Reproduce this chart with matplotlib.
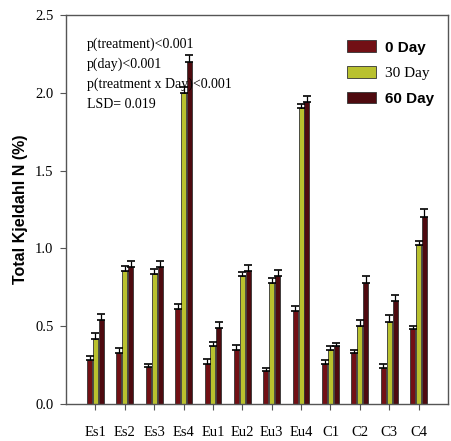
import matplotlib
matplotlib.use("Agg")
import matplotlib.pyplot as plt
import numpy as np
from matplotlib.patches import Patch

categories = ["Es1", "Es2", "Es3", "Es4", "Eu1", "Eu2", "Eu3", "Eu4", "C1", "C2", "C3", "C4"]
day0 = [0.28, 0.33, 0.24, 0.61, 0.26, 0.35, 0.21, 0.60, 0.26, 0.33, 0.23, 0.48]
day30 = [0.42, 0.855, 0.835, 2.00, 0.37, 0.82, 0.78, 1.90, 0.345, 0.50, 0.53, 1.02]
day60 = [0.54, 0.88, 0.88, 2.20, 0.49, 0.855, 0.82, 1.94, 0.37, 0.78, 0.66, 1.20]
err0 = [0.03, 0.03, 0.02, 0.03, 0.03, 0.03, 0.02, 0.03, 0.02, 0.02, 0.03, 0.02]
err30 = [0.035, 0.03, 0.03, 0.04, 0.03, 0.03, 0.03, 0.03, 0.03, 0.04, 0.04, 0.03]
err60 = [0.04, 0.04, 0.04, 0.04, 0.04, 0.04, 0.04, 0.04, 0.02, 0.04, 0.04, 0.05]
series_labels = ["0 Day", "30 Day", "60 Day"]
colors = ["#721015", "#b9c12e", "#4e0a0f"]
annotation = ["p(treatment)<0.001", "p(day)<0.001", "p(treatment x Day)<0.001", "LSD= 0.019"]

fig = plt.figure(figsize=(4.52, 4.41), dpi=100)
ax = fig.add_axes([66 / 452, 1 - 404 / 441, 382 / 452, 389 / 441])

x = np.arange(len(categories))
w = 0.17
step = 0.2
for i, (vals, errs, c) in enumerate(zip([day0, day30, day60], [err0, err30, err60], colors)):
    pos = x + (i - 1) * step
    ax.bar(pos, vals, w, color=c, edgecolor="#333333", linewidth=0.6, zorder=2)
    ax.errorbar(pos, vals, yerr=[np.zeros(len(vals)), errs], fmt="none",
                ecolor="black", elinewidth=0.9, capsize=3, capthick=1.2, zorder=3)

ax.set_xlim(-1, 12)
ax.set_ylim(0, 2.5)
ax.set_yticks([0.0, 0.5, 1.0, 1.5, 2.0, 2.5])
ax.set_yticklabels(["0.0", "0.5", "1.0", "1.5", "2.0", "2.5"],
                   family="Liberation Serif", fontsize=10.5)
ax.set_xticks(x)
ax.set_xticklabels(categories, family="Liberation Serif", fontsize=10.5)
ax.tick_params(axis="x", direction="out", length=4, pad=12, color="#555555")
ax.tick_params(axis="y", direction="out", length=4, pad=5, color="#555555")
for s in ax.spines.values():
    s.set_color("#555555")
    s.set_linewidth(1.0)

ax.set_ylabel("Total Kjeldahl N (%)", family="Liberation Sans", fontweight="bold",
              fontsize=11.5, labelpad=5)

for k, line in enumerate(annotation):
    ax.text(0.055, 0.925 - k * 0.052, line, transform=ax.transAxes,
            family="Liberation Serif", fontsize=10, va="center", ha="left")

handles = [Patch(facecolor=c, edgecolor="#333333", linewidth=0.6) for c in colors]
leg = ax.legend(handles, series_labels, loc="upper right", bbox_to_anchor=(1.0, 0.97),
                frameon=False, handlelength=1.9, handleheight=0.8, handletextpad=0.6,
                labelspacing=0.75,
                prop={"family": "Liberation Sans", "weight": "bold", "size": 11})
leg.get_texts()[1].set_family("Liberation Serif")
leg.get_texts()[1].set_fontweight("normal")

fig.savefig("out.png", dpi=100)
